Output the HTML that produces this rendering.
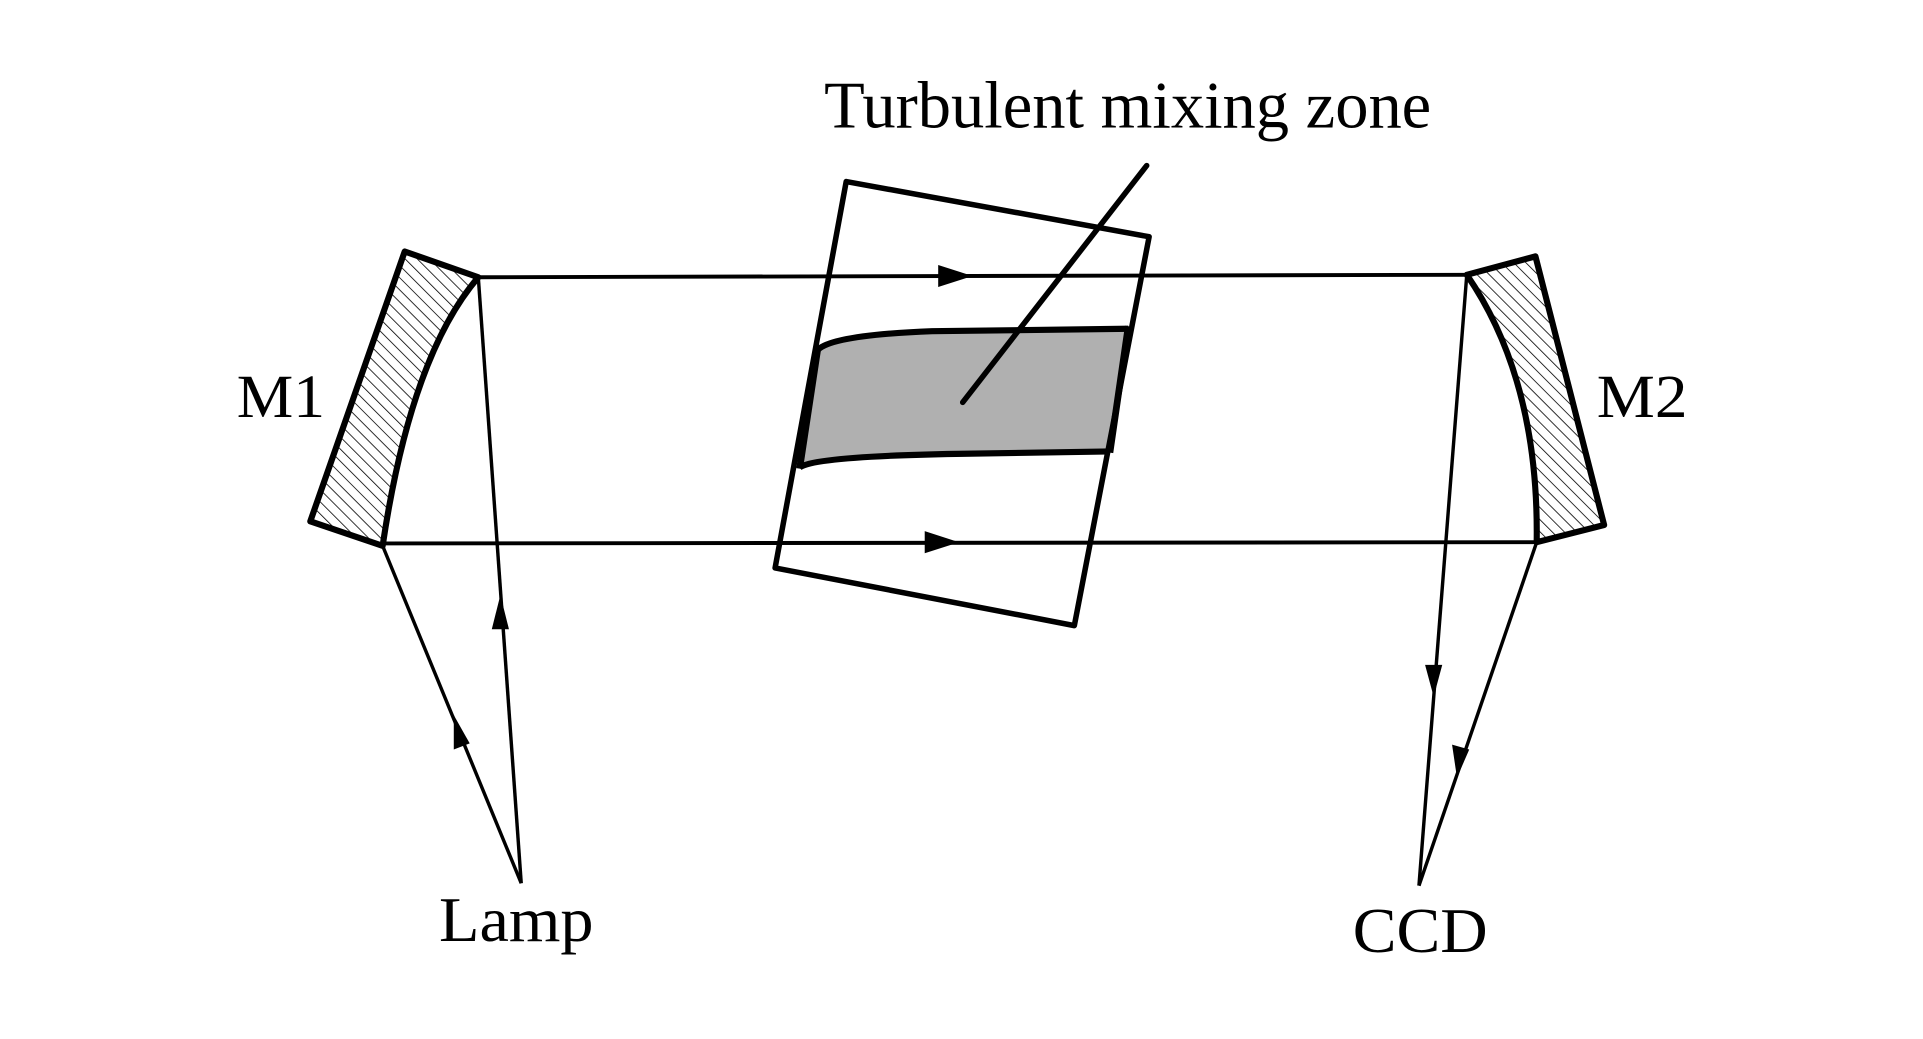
<!DOCTYPE html>
<html><head><meta charset="utf-8"><style>
html,body{margin:0;padding:0;background:#fff;}
svg{display:block;}
text{font-family:"Liberation Serif",serif;fill:#000;}
</style></head><body>
<svg width="1923" height="1039" viewBox="0 0 1568 847" preserveAspectRatio="none" xmlns="http://www.w3.org/2000/svg">
<defs>
<pattern id="h" patternUnits="userSpaceOnUse" width="7" height="7" patternTransform="rotate(-45)">
<rect width="7" height="7" fill="#fff"/><line x1="0" y1="0" x2="0" y2="7" stroke="#000" stroke-width="1.3"/>
</pattern>
</defs>
<!-- gray band -->
<path d="M667,285 Q680,273 760,270 L920,268 L905,368 L780,370 Q665,372 652,381 Z" fill="#b0b0b0" stroke="none"/>
<!-- beams -->
<g stroke="#000" fill="none" stroke-width="3.2">
<line x1="390" y1="226" x2="1196" y2="224"/>
<line x1="312" y1="443" x2="1253" y2="442"/>
</g>
<g stroke="#000" fill="none" stroke-width="2.8">
<line x1="425" y1="720" x2="390" y2="226"/>
<line x1="425" y1="720" x2="312" y2="445"/>
<line x1="1157" y1="722" x2="1196" y2="224"/>
<line x1="1157" y1="722" x2="1253" y2="442"/>
</g>
<!-- arrows -->
<g fill="#000">
<polygon points="793,225 765,216 765,234"/>
<polygon points="782,442 754,433 754,451"/>
<polygon points="408,485 401,513 415,513"/>
<polygon points="370,583 370,611 383,606"/>
<polygon points="1169,568 1162,542 1176,542"/>
<polygon points="1188,634 1184,607 1198,611"/>
</g>
<!-- box -->
<polygon points="690,148 937,193 876,510 632,463" fill="none" stroke="#000" stroke-width="4.5" stroke-linejoin="round"/>
<path d="M667,285 Q680,273 760,270 L920,268" fill="none" stroke="#000" stroke-width="5"/>
<path d="M652,381 Q665,372 780,370 L905,368" fill="none" stroke="#000" stroke-width="5"/>
<line x1="667" y1="283" x2="652" y2="382" stroke="#000" stroke-width="5.5"/>
<line x1="920" y1="266" x2="905" y2="369" stroke="#000" stroke-width="5.5"/>
<!-- pointer -->
<line x1="935" y1="135" x2="785" y2="328" stroke="#000" stroke-width="4.5" stroke-linecap="round"/>
<!-- M1 -->
<path d="M330,205 L390,226 Q335,290 312,445 L253,425 Z" fill="url(#h)" stroke="#000" stroke-width="5" stroke-linejoin="round"/>
<!-- M2 -->
<path d="M1196,224 L1252,209 L1308,428 L1253,442 Q1255,310 1196,224 Z" fill="url(#h)" stroke="#000" stroke-width="5" stroke-linejoin="round"/>
<!-- labels -->
<text x="672" y="104" font-size="54" textLength="495" lengthAdjust="spacingAndGlyphs">Turbulent mixing zone</text>
<text x="193" y="340" font-size="50" textLength="72" lengthAdjust="spacingAndGlyphs">M1</text>
<text x="1302" y="340" font-size="50" textLength="74" lengthAdjust="spacingAndGlyphs">M2</text>
<text x="358" y="767" font-size="52" textLength="126" lengthAdjust="spacingAndGlyphs">Lamp</text>
<text x="1103" y="776" font-size="52" textLength="110" lengthAdjust="spacingAndGlyphs">CCD</text>
</svg>
</body></html>
